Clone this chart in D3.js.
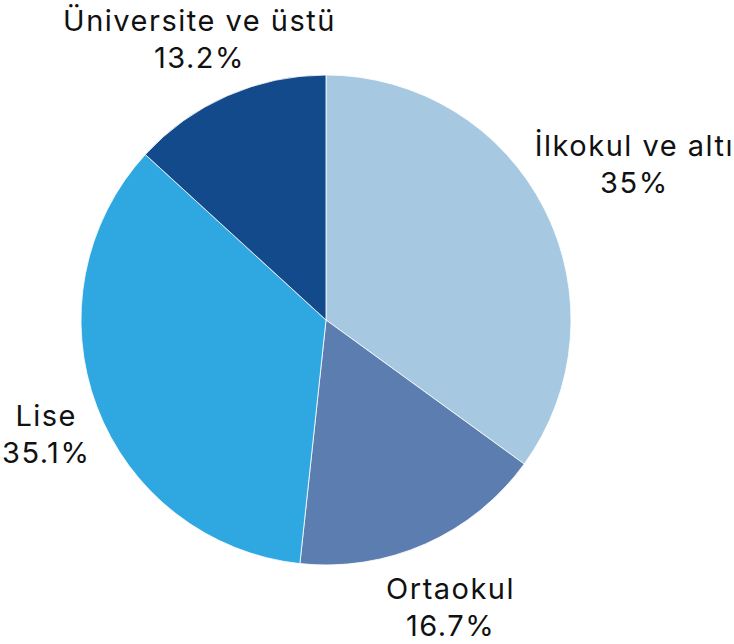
<!DOCTYPE html>
<html>
<head>
<meta charset="utf-8">
<script src="https://cdn.jsdelivr.net/npm/d3@7"></script>
<style>
  body { margin: 0; background: #fff; }
  text { font-family: Inter, "Open Sans", sans-serif; }
</style>
</head>
<body>
<div id="chart"></div>
<script>
// education level shares (%)
var categories = ["İlkokul ve altı", "Ortaokul", "Lise", "Üniversite ve üstü"];
var values = [35, 16.7, 35.1, 13.2];
var valueLabels = ["35%", "16.7%", "35.1%", "13.2%"];
var colors = ["#a6c8e1", "#5b7db0", "#2fa7e0", "#134a8c"];

var width = 734,
    height = 644;
var cx = 326, cy = 320, radius = 245;

var svg = d3.select("#chart").append("svg")
  .attr("width", width)
  .attr("height", height);

var g = svg.append("g")
  .attr("transform", "translate(" + cx + "," + cy + ")");

var pie = d3.pie().sort(null).value(d => d.value);
var arc = d3.arc().innerRadius(0).outerRadius(radius);

var data = categories.map((c, i) => ({ name: c, value: values[i], label: valueLabels[i], color: colors[i] }));
var arcs = pie(data);

g.selectAll("path.slice")
  .data(arcs)
  .enter().append("path")
  .attr("class", "slice")
  .attr("d", arc)
  .attr("fill", d => d.data.color)
  .attr("stroke", "#ffffff")
  .attr("stroke-width", 0.8);

var labels = g.selectAll("text.lbl")
  .data(arcs)
  .enter().append("text")
  .attr("class", "lbl")
  .attr("text-anchor", "middle")
  .attr("font-size", 29)
  .attr("letter-spacing", 1.5)
  .attr("fill", "#111");

labels.append("tspan")
  .attr("x", 0)
  .attr("y", -8)
  .text(d => d.data.name);

labels.append("tspan")
  .attr("x", 0)
  .attr("y", 29)
  .text(d => d.data.label);

// push each label out along its mid angle until its box clears the pie
var gap = 6, drop = 6;
labels.attr("transform", function (d) {
  var b = this.getBBox();
  var a = (d.startAngle + d.endAngle) / 2;
  var ux = Math.sin(a), uy = -Math.cos(a);
  var x = 0, y = 0;
  for (var r = radius; r < radius * 2; r++) {
    x = r * ux; y = r * uy;
    var nx = Math.max(x + b.x, Math.min(0, x + b.x + b.width));
    var ny = Math.max(y + b.y, Math.min(0, y + b.y + b.height));
    if (Math.sqrt(nx * nx + ny * ny) > radius + gap) break;
  }
  y += drop;
  // keep inside the picture
  x = Math.max(-cx - b.x + 2, Math.min(width - cx - b.x - b.width, x));
  y = Math.max(-cy - b.y + 2, Math.min(height - cy - b.y - b.height, y));
  return "translate(" + x + "," + y + ")";
});
</script>
</body>
</html>
